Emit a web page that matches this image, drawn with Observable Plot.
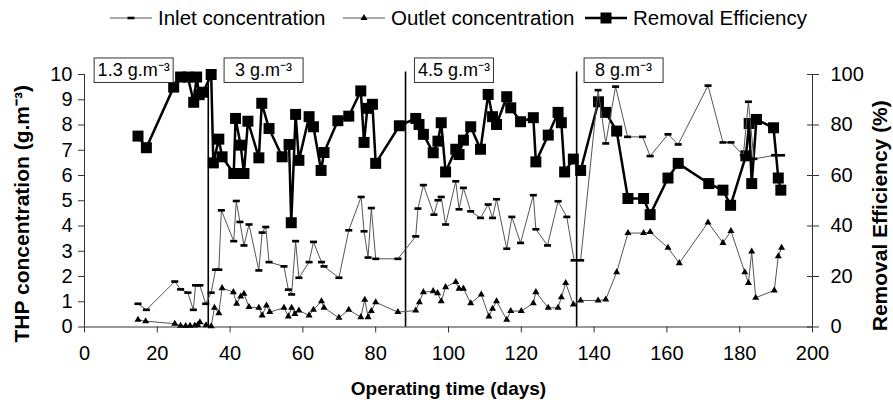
<!DOCTYPE html>
<html><head><meta charset="utf-8">
<script src="https://cdn.jsdelivr.net/npm/d3@7"></script>
<script src="https://cdn.jsdelivr.net/npm/@observablehq/plot@0.6"></script>
<style>
body{margin:0;background:#fff;}
#wrap{position:relative;width:893px;height:403px;font-family:"Liberation Sans",Arial,sans-serif;overflow:hidden;}
#chart{position:absolute;left:0;top:0;}
.leg{position:absolute;top:0;height:36px;display:flex;align-items:center;font-size:20.5px;color:#000;white-space:nowrap;}
.leg svg{margin-right:6px;}
</style></head><body>
<div id="wrap"><div id="chart"></div><div id="legend"></div></div>
<script>
// ---- data ----
const inletDays = [14.7,17,24.8,26.4,28.4,29.9,30.5,31.7,33.3,34.8,36,36.9,37.6,41,41.7,42.7,43.8,45.2,47.9,48.8,49.8,50.7,54.8,56,56.9,58,58.9,61.7,62.9,65.1,65.8,69.9,72.6,76,76.8,77.9,78.8,80,86.1,91,91.6,93.1,96,97.1,98,99.2,102,102.9,104.1,106.1,108.8,110.9,112.1,113.2,116,117.4,119.8,123.3,124,127.2,130.1,132.5,134.5,136.3,141.1,143.2,145.9,149.2,153.3,155.4,160.3,163.1,171.3,175.4,177.6,181,182.4,183.9,189.6,191.5];
const inletValues = [0.92,0.68,1.8,1.49,1.36,0.68,1.65,1.65,0.92,1.36,2.27,2.27,4.62,3.4,4.99,4.16,3.23,4.06,2.24,3.74,3.96,2.57,2.4,1.48,1.29,3.4,1.95,2.57,3.37,2.57,2.4,1.95,3.83,5.15,3.79,2.75,4.71,2.7,2.7,3.59,4.69,5.62,4.45,5.02,5.15,4.06,5.77,4.66,5.51,4.58,4.32,4.85,4.32,5.06,3.1,4.36,3.33,5.22,3.87,3.23,4.98,4.36,2.64,2.64,9.38,7.27,9.52,7.53,7.53,6.77,7.63,7.23,9.56,7.31,7.31,6.8,8.92,6.66,6.8,6.8];

const outletDays = [14.7,16.8,24.8,26.4,27.8,29,30.3,31.1,31.7,33.4,34.8,35.7,36.9,37.8,40.9,41.8,42.9,43.8,45.2,47.9,48.8,50,50.9,54.8,56,56.9,57.8,58.9,61.7,62.9,65.1,65.8,69.9,72.6,75.9,77,77.9,78.8,80,86.1,91,92,93.1,95.8,97,98,99.2,102,102.9,104.1,106.1,109,111.1,112.1,113.2,116,117.1,120,123.3,124,127.4,130.1,131,132.2,134.3,136.3,141.1,143.2,146.2,149.3,153.6,155.4,160.3,163.4,171.3,175.4,177.6,181.4,182.4,183.3,184.4,189.5,190.6,191.5];
const outletValues = [0.29,0.23,0.13,0.05,0.04,0.05,0.06,0.08,0.19,0.07,0.03,0.76,0.55,1.54,1.38,0.92,1.21,1.32,0.79,0.76,0.46,0.85,0.59,0.76,0.42,0.76,0.52,0.65,0.46,0.68,1.02,0.76,0.37,0.68,0.39,1.08,0.39,0.63,0.98,0.59,0.65,0.98,1.38,1.42,1.34,1.02,1.58,1.78,1.52,1.52,0.94,1.29,0.42,0.72,1.02,0.29,0.63,0.63,0.94,1.38,0.76,0.76,1.18,1.74,0.89,1.05,1.05,1.09,2.17,3.72,3.72,3.76,3.14,2.53,4.14,3.33,3.8,2.17,1.74,2.99,1.16,1.45,2.8,3.14];

const effDays = [14.7,17,24.5,26.4,28.4,30,30.8,31.5,32.6,34.8,35.4,36.9,37.8,41,41.5,42.9,43.8,44.9,47.9,48.7,50.7,54.3,56.2,56.8,58,58.9,61.7,62.9,65,65.8,69.6,72.6,75.9,76.8,77.7,79.1,80,86.5,91,91.9,93.1,95.8,97.1,98,99.2,102,102.9,104.1,106.1,108.8,110.9,112.1,113.2,116,117.1,119.8,123.3,124,127.4,130.1,131,131.9,134.3,136.3,141.2,143.2,146.2,149.3,153.6,155.4,160.3,163.1,171.5,175.4,177.5,181.7,182.6,183.3,184.6,189.3,190.6,191.3];
const effValues = [75.6,71,95,99,99,89,99,92,93,100,65,74.4,67.4,60.8,82.6,72,60.8,81.5,67,88.6,78.6,67.4,72.3,41.3,84.2,66,83.3,79.3,62,69.1,81.7,83.5,93.5,73.1,86.6,88.2,64.8,79.7,82.6,80.2,76.3,69,73.6,80.9,61.4,70.4,68.3,74,79.3,70.4,92.1,83.3,80.2,91.2,86.8,81.3,82.9,65.4,76,85,80.9,61.4,66.5,62,89.2,85,77.6,50.9,50.9,44.5,59,64.8,56.8,54.2,48.2,67.8,80.6,56.8,82.2,78.9,59,54.2];

const phaseDays = [34, 88.2, 135.2];
const loadLabels = ["1.3 g.m\u207B\u00B3", "3 g.m\u207B\u00B3", "4.5 g.m\u207B\u00B3", "8 g.m\u207B\u00B3"];
const loadLabelDays = [13.5, 49.2, 101.5, 148.1];

const xTicks = [0,20,40,60,80,100,120,140,160,180,200];
const concTicks = [0,1,2,3,4,5,6,7,8,9,10];
const effTicks = [0,20,40,60,80,100];

const seriesNames = ["Inlet concentration", "Outlet concentration", "Removal Efficiency"];
const xTitle = "Operating time (days)";
const yTitle = "THP concentration (g.m\u207B\u00B3)";
const y2Title = "Removal Efficiency (%)";

// ---- tables ----
const inlet = inletDays.map((d,i)=>({day:d, v:inletValues[i]}));
const outlet = outletDays.map((d,i)=>({day:d, v:outletValues[i]}));
const eff = effDays.map((d,i)=>({day:d, v:effValues[i]}));
const loads = loadLabels.map((t,i)=>({label:t, day:loadLabelDays[i]}));

const dash = {draw(ctx, size){ const r=Math.sqrt(size/Math.PI); ctx.moveTo(-1.6*r,-0.6*r); ctx.lineTo(1.6*r,-0.6*r); ctx.lineTo(1.6*r,0.6*r); ctx.lineTo(-1.6*r,0.6*r); ctx.closePath(); }};

const FONT = '"Liberation Sans", Arial, sans-serif';
const effTickPos = effTicks.map(v => v/10);

const chart = Plot.plot({
  width: 893, height: 403,
  marginTop: 74, marginBottom: 76.5, marginLeft: 84, marginRight: 81,
  style: {fontFamily: FONT, background: "white", color: "black", overflow: "visible"},
  x: {domain: [0, 200]},
  y: {domain: [0, 10]},
  marks: [
    Plot.axisX({ticks: xTicks, tickSize: 6, tickPadding: 13, fontSize: 20, label: null, stroke: "#333"}),
    Plot.axisY({anchor: "left", ticks: concTicks, tickSize: 6, tickPadding: 6, fontSize: 20, label: null, stroke: "#333"}),
    Plot.axisY({anchor: "right", ticks: effTickPos, tickFormat: d => String(Math.round(d*10)), tickSize: 6, tickPadding: 12, fontSize: 20, label: null, stroke: "#333"}),
    Plot.axisY({anchor: "right", ticks: effTickPos, tickFormat: () => "", tickSize: 6, dx: -6, label: null, stroke: "#333"}),
    Plot.ruleX([0], {stroke: "#333"}),
    Plot.ruleX([200], {stroke: "#333"}),
    Plot.ruleY([0], {stroke: "#333"}),
    Plot.ruleX(phaseDays, {y1: 0, y2: 10.1, stroke: "black", strokeWidth: 1.6}),
    Plot.line(eff, {x: "day", y: d => d.v/10, stroke: "black", strokeWidth: 2.5}),
    Plot.dot(eff, {x: "day", y: d => d.v/10, symbol: "square", r: 6.2, fill: "black"}),
    Plot.line(inlet, {x: "day", y: "v", stroke: "#555", strokeWidth: 1}),
    Plot.dot(inlet, {x: "day", y: "v", symbol: dash, r: 2.2, fill: "black"}),
    Plot.line(outlet, {x: "day", y: "v", stroke: "#555", strokeWidth: 1}),
    Plot.dot(outlet, {x: "day", y: "v", symbol: "triangle", r: 2.6, fill: "black"}),
    Plot.text(loads, {x: "day", y: 10.18, text: "label", fontSize: 18, fill: "black"}),
    Plot.text([yTitle], {frameAnchor: "left", textAnchor: "middle", dx: -62, dy: 13, rotate: -90, fontSize: 21, fontWeight: "bold", fill: "black"}),
    Plot.text([y2Title], {frameAnchor: "right", textAnchor: "middle", dx: 68, dy: 15, rotate: -90, fontSize: 21, fontWeight: "bold", fill: "black"}),
    Plot.text([xTitle], {frameAnchor: "bottom", textAnchor: "middle", dy: 68, fontSize: 19, fontWeight: "bold", fill: "black"})
  ]
});
document.getElementById("chart").appendChild(chart);

// fixed-size boxes behind load labels (Excel-style text boxes)
d3.select(chart).selectAll("text").filter(function(){ return loadLabels.includes(this.textContent); }).each(function(){
  const b = this.getBBox();
  const w = 79, h = 24.5;
  const cx = b.x + b.width/2, cy = b.y + b.height/2 + 0.5;
  const r = document.createElementNS("http://www.w3.org/2000/svg", "rect");
  r.setAttribute("x", cx - w/2); r.setAttribute("y", cy - h/2);
  r.setAttribute("width", w); r.setAttribute("height", h);
  r.setAttribute("fill", "white"); r.setAttribute("stroke", "#333"); r.setAttribute("stroke-width", 1);
  const tr = this.getAttribute("transform"); if (tr) r.setAttribute("transform", tr);
  this.parentNode.insertBefore(r, this);
});

// legend
const legPos = [110, 343, 585];
const legend = document.getElementById("legend");
seriesNames.forEach((name, i) => {
  const div = document.createElement("div");
  div.className = "leg"; div.style.left = legPos[i] + "px";
  const s = d3.create("svg").attr("width", 42).attr("height", 20);
  if (i === 0) {
    s.append("line").attr("x1",0).attr("x2",42).attr("y1",10).attr("y2",10).attr("stroke","#555").attr("stroke-width",1);
    s.append("rect").attr("x",17.5).attr("y",8.7).attr("width",7).attr("height",2.6).attr("fill","black");
  } else if (i === 1) {
    s.append("line").attr("x1",0).attr("x2",42).attr("y1",10).attr("y2",10).attr("stroke","#555").attr("stroke-width",1);
    s.append("path").attr("d", d3.symbol(d3.symbolTriangle, 2.6*2.6*Math.PI)()).attr("transform","translate(21,10)").attr("fill","black");
  } else {
    s.append("line").attr("x1",0).attr("x2",42).attr("y1",10).attr("y2",10).attr("stroke","black").attr("stroke-width",2.5);
    s.append("rect").attr("x",15.5).attr("y",4.5).attr("width",11).attr("height",11).attr("fill","black");
  }
  div.appendChild(s.node());
  const sp = document.createElement("span"); sp.textContent = name; div.appendChild(sp);
  legend.appendChild(div);
});
</script>
</body></html>
